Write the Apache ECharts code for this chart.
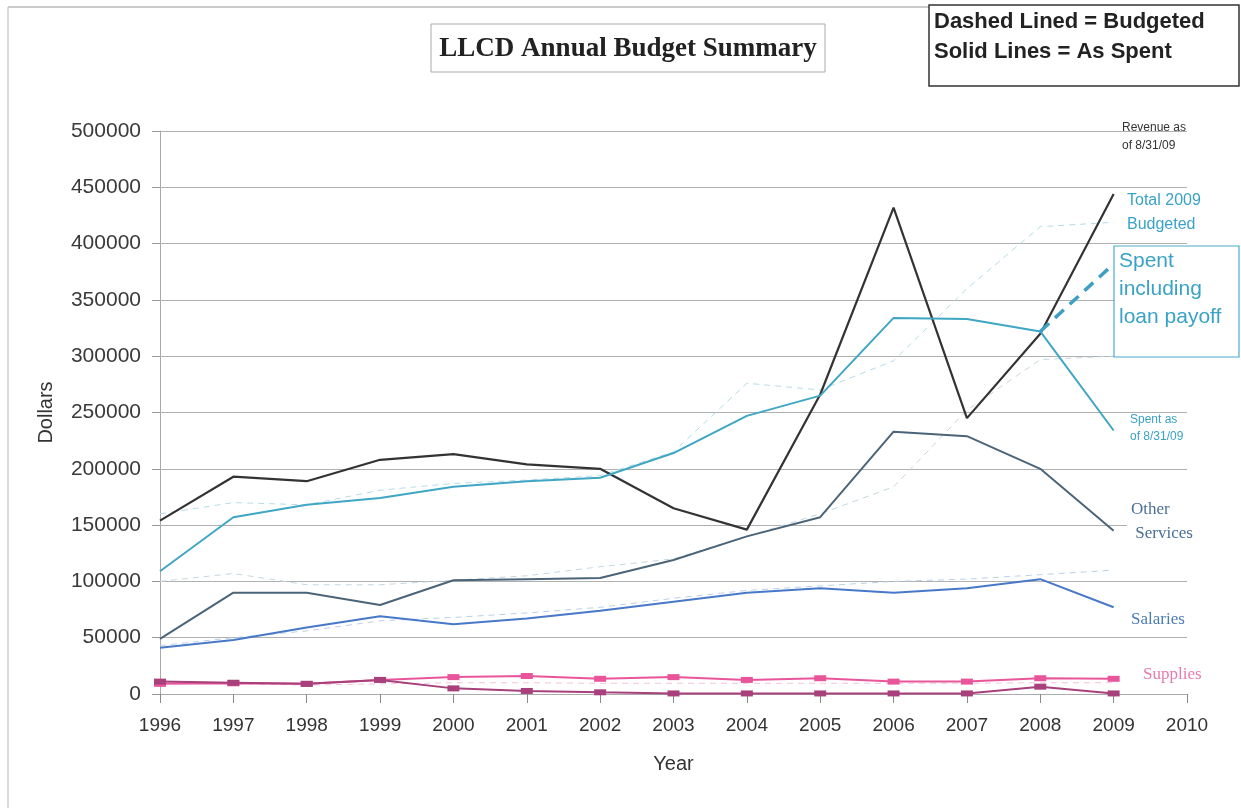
<!DOCTYPE html>
<html><head><meta charset="utf-8">
<script src="https://cdn.jsdelivr.net/npm/echarts@6/dist/echarts.min.js"></script>
<style>html,body{margin:0;padding:0;background:#fff}#c{width:1241px;height:808px}</style>
</head><body><div id="c"></div>
<script>
const years = ['1996','1997','1998','1999','2000','2001','2002','2003','2004','2005','2006','2007','2008','2009','2010'];
const yTicks = [0,50000,100000,150000,200000,250000,300000,350000,400000,450000,500000];

// Solid lines = as spent
const revenue      = [154000,193000,189000,208000,213000,204000,200000,165000,146000,266000,432000,245000,320000,444000];
const totalSpent   = [109000,157000,168000,174000,184000,189000,192000,214000,247000,265000,334000,333000,322000,234000];
const otherSpent   = [49000,90000,90000,79000,101000,102000,103000,119000,140000,157000,233000,229000,200000,145000];
const salarySpent  = [41000,48000,59000,69000,62000,67000,74000,82000,90000,94000,90000,94000,102000,77000];
const suppliesA    = [9000,9500,9000,12500,15000,16000,13500,15000,12500,14000,11000,11000,14000,13500];
const suppliesB    = [11000,10000,9000,12500,5000,2700,1500,500,500,500,500,500,6500,500];
const loanPayoff   = [null,null,null,null,null,null,null,null,null,null,null,null,322000,382000];

// Dashed lines = budgeted
const totalBudget  = [160000,170000,168000,181000,187000,190000,194000,215000,276000,270000,296000,360000,415000,419000];
const otherBudget  = [100000,107000,97000,97000,101000,105000,113000,120000,140000,160000,184000,252000,297000,300000];
const salaryBudget = [43000,50000,56000,65000,68000,72000,77000,85000,92000,96000,100000,102000,106000,110000];
const suppliesBudget = [10000,9000,8000,9000,10000,10000,9500,9500,9500,9500,9500,9500,10000,10000];

const chart = echarts.init(document.getElementById('c'));
const AR = '"Liberation Sans", Arial, sans-serif';
const SR = '"Liberation Serif", "Times New Roman", serif';

function solid(name, data, color, w, extra) {
  return Object.assign({ name, type:'line', data, symbol:'none', lineStyle:{color, width:w}, itemStyle:{color}, z:3, silent:true }, extra||{});
}
function dashed(name, data, color) {
  return { name, type:'line', data, symbol:'none', lineStyle:{color, width:1, type:[6,5]}, z:2, silent:true };
}

chart.setOption({
  animation:false,
  grid:{left:160, right:54, top:131, bottom:114},
  xAxis:{
    type:'category', data:years, boundaryGap:false,
    name:'Year', nameLocation:'middle', nameGap:60,
    nameTextStyle:{fontFamily:AR, fontSize:20, color:'#333'},
    axisLine:{lineStyle:{color:'#aaa', width:1}},
    axisTick:{show:true, length:9, lineStyle:{color:'#888'}},
    axisLabel:{fontFamily:AR, fontSize:19, color:'#333', margin:22},
    splitLine:{show:false}
  },
  yAxis:{
    type:'value', min:0, max:500000, interval:50000,
    name:'Dollars', nameLocation:'middle', nameGap:104, nameRotate:90,
    nameTextStyle:{fontFamily:AR, fontSize:20, color:'#333'},
    axisLine:{show:true, lineStyle:{color:'#aaa', width:1}},
    axisTick:{show:true, length:8, lineStyle:{color:'#999'}},
    axisLabel:{fontFamily:AR, fontSize:21, color:'#3a3a3a', margin:19, formatter: v => String(v)},
    splitLine:{lineStyle:{color:'#b0b0b0', width:1.2}}
  },
  series:[
    dashed('Total Budgeted', totalBudget, '#b5dbe6'),
    dashed('Other Budgeted', otherBudget, '#c4d6e0'),
    dashed('Salaries Budgeted', salaryBudget, '#b9cfe8'),
    dashed('Supplies Budgeted', suppliesBudget, '#f3c3dc'),
    solid('Revenue', revenue, '#333', 2.2),
    solid('Total Spent', totalSpent, '#3fa6c4', 2),
    solid('Other Services', otherSpent, '#4b6478', 2),
    solid('Salaries', salarySpent, '#4878c8', 2),
    solid('Supplies', suppliesA, '#e8559a', 2, {symbol:'rect', symbolSize:[12,6], showSymbol:true}),
    solid('Supplies 2', suppliesB, '#a8407c', 2, {symbol:'rect', symbolSize:[12,6], showSymbol:true}),
    { name:'Loan payoff', type:'line', data:loanPayoff, symbol:'none', connectNulls:false,
      lineStyle:{color:'#3d9fc2', width:3.5, type:[12,8]}, z:4, silent:true }
  ],
  graphic:[
    {type:'line', shape:{x1:8,y1:7,x2:929,y2:7}, style:{stroke:'#bbb', lineWidth:1.5}, z:10},
    {type:'line', shape:{x1:8,y1:7,x2:8,y2:808}, style:{stroke:'#ccc', lineWidth:1.5}, z:10},
    {type:'rect', shape:{x:431,y:24,width:394,height:48}, style:{fill:'#fff', stroke:'#aaa', lineWidth:1}, z:10},
    {type:'text', x:628, y:49, style:{text:'LLCD Annual Budget Summary', font:'bold 27px '+SR, fill:'#222', textAlign:'center', textVerticalAlign:'middle'}, z:11},
    {type:'rect', shape:{x:929,y:5,width:310,height:81}, style:{fill:'#fff', stroke:'#333', lineWidth:1.5}, z:10},
    {type:'text', x:934, y:22, style:{text:'Dashed Lined = Budgeted', font:'bold 22px '+AR, fill:'#222', textVerticalAlign:'middle'}, z:11},
    {type:'text', x:934, y:52, style:{text:'Solid Lines = As Spent', font:'bold 22px '+AR, fill:'#222', textVerticalAlign:'middle'}, z:11},
    {type:'text', x:1122, y:137, style:{text:'Revenue as\nof 8/31/09', font:'12px '+AR, fill:'#333', lineHeight:18, textVerticalAlign:'middle'}, z:11},
    {type:'text', x:1127, y:213, style:{text:'Total 2009\nBudgeted', font:'16px '+AR, fill:'#3aa2c6', lineHeight:24, textVerticalAlign:'middle'}, z:11},
    {type:'rect', shape:{x:1114,y:246,width:125,height:111}, style:{fill:'#fff', stroke:'#4aaccc', lineWidth:1.2}, z:10},
    {type:'text', x:1119, y:289, style:{text:'Spent\nincluding\nloan payoff', font:'21px '+AR, fill:'#3aa2c6', lineHeight:28, textVerticalAlign:'middle'}, z:11},
    {type:'text', x:1130, y:428, style:{text:'Spent as\nof 8/31/09', font:'12px '+AR, fill:'#3aa2c6', lineHeight:17, textVerticalAlign:'middle'}, z:11},
    {type:'rect', shape:{x:1127,y:498,width:80,height:48}, style:{fill:'#fff'}, z:9},
    {type:'text', x:1131, y:522, style:{text:'Other\n Services', font:'17px '+SR, fill:'#4a6f96', lineHeight:24, textVerticalAlign:'middle'}, z:11},
    {type:'text', x:1131, y:620, style:{text:'Salaries', font:'17px '+SR, fill:'#4a7cb4', textVerticalAlign:'middle'}, z:11},
    {type:'text', x:1143, y:675, style:{text:'Supplies', font:'17px '+SR, fill:'#e87ab0', textVerticalAlign:'middle'}, z:11}
  ]
});
</script></body></html>
